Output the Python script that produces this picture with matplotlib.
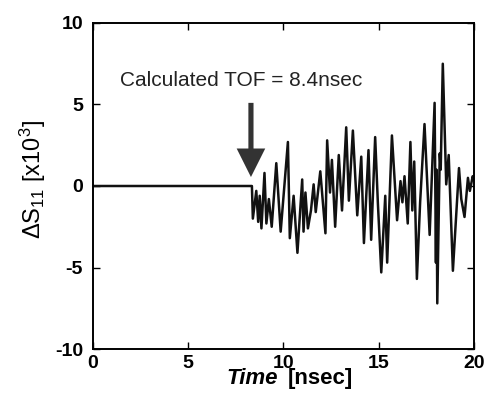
import matplotlib
matplotlib.use("Agg")
import matplotlib.pyplot as plt

plt.rcParams["font.family"] = ["Liberation Sans", "DejaVu Sans"]
plt.rcParams["mathtext.fontset"] = "custom"
plt.rcParams["mathtext.rm"] = "Liberation Sans"
plt.rcParams["mathtext.it"] = "Liberation Sans:italic"
plt.rcParams["mathtext.bf"] = "Liberation Sans:bold"
plt.rcParams["axes.unicode_minus"] = False

# Reflection difference signal (peaks and troughs)
time_ns = [0.0, 8.35, 8.40, 8.58, 8.68, 8.76, 8.85, 9.01, 9.11, 9.24, 9.39,
           9.63, 9.86, 10.24, 10.34, 10.54, 10.74, 10.99, 11.06, 11.16, 11.29,
           11.45, 11.59, 11.70, 11.94, 12.21, 12.30, 12.45, 12.55, 12.72, 12.91,
           13.08, 13.30, 13.44, 13.65, 13.88, 14.09, 14.23, 14.47, 14.61, 14.82,
           14.96, 15.14, 15.35, 15.45, 15.70, 15.97, 16.15, 16.25, 16.36, 16.53,
           16.67, 16.77, 16.87, 17.01, 17.18, 17.41, 17.68, 17.94, 18.01, 18.04,
           18.08, 18.21, 18.26, 18.37, 18.55, 18.68, 18.90, 19.22, 19.34, 19.51,
           19.69, 19.79, 19.94, 20.0]
ds11 = [0.0, 0.0, -2.0, -0.3, -2.2, -0.6, -2.6, 0.8, -2.3, -0.8, -2.5,
        1.4, -2.8, 2.7, -3.2, -0.6, -4.1, 0.4, -2.8, -0.4, -2.6,
        -1.5, 0.1, -1.6, 0.9, -2.9, 2.8, -0.4, 1.6, -2.5, 1.9,
        -1.5, 3.6, -0.9, 3.4, -1.8, 1.8, -3.5, 2.2, -3.3, 3.0,
        -1.0, -5.3, -0.6, -4.7, 3.1, -2.1, 0.3, -1.0, 0.6, -2.3,
        2.7, -1.5, 1.5, -5.7, -1.0, 3.8, -3.0, 5.1, -4.7, 1.0,
        -7.2, 2.0, 1.0, 7.5, 0.1, 1.9, -5.2, 1.1, -0.8, -1.9,
        0.5, -0.3, 0.6, 0.4]

tof_ns = 8.3
x_ticks = [0, 5, 10, 15, 20]
y_ticks = [-10, -5, 0, 5, 10]

fig = plt.figure(figsize=(4.86, 4.07), dpi=100)
ax = fig.add_axes([0.191, 0.1425, 0.784, 0.801])

ax.plot(time_ns, ds11, color="#111111", lw=1.8)

# arrow marking the time of flight
ax.arrow(tof_ns, 5.1, 0, -4.55, width=0.27, head_width=1.5, head_length=1.75,
         length_includes_head=True, color="#333333", lw=0)
ax.text(7.8, 6.5, "Calculated TOF = 8.4nsec", fontsize=15, ha="center",
        va="center", color="#222222")

ax.set_xlim(0, 20)
ax.set_ylim(-10, 10)
ax.set_xticks(x_ticks)
ax.set_yticks(y_ticks)
ax.tick_params(direction="in", length=5, width=1, top=True, right=True,
               labelsize=14)
ax.tick_params(axis="y", pad=7)
ax.tick_params(axis="x", pad=4)
for lab in ax.get_xticklabels() + ax.get_yticklabels():
    lab.set_fontweight("bold")
for sp in ax.spines.values():
    sp.set_linewidth(1.4)

ax.set_ylabel("ΔS$_{11}$ [x10$^3$]", fontsize=17, va="center")
ax.yaxis.set_label_coords(-0.158, 0.52)
ax.text(0.485, -0.089, "Time", transform=ax.transAxes, ha="right", va="center",
        fontsize=16, fontweight="bold", fontstyle="italic")
ax.text(0.511, -0.089, "[nsec]", transform=ax.transAxes, ha="left", va="center",
        fontsize=16, fontweight="bold")

fig.savefig("out.png", dpi=100)
